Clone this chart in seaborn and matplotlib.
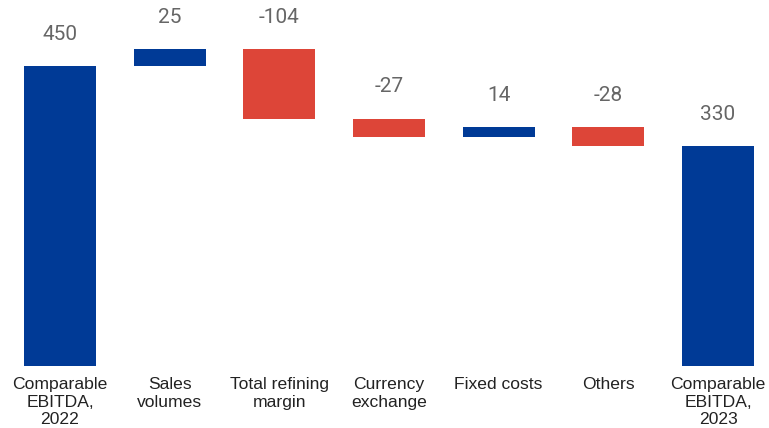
import matplotlib
matplotlib.use("Agg")
import matplotlib.pyplot as plt
import numpy as np
import pandas as pd
import seaborn as sns

categories = ["Comparable\nEBITDA,\n2022", "Sales\nvolumes", "Total refining\nmargin",
              "Currency\nexchange", "Fixed costs", "Others", "Comparable\nEBITDA,\n2023"]
values = [450, 25, -104, -27, 14, -28, 330]
is_total = [True, False, False, False, False, False, True]

BLUE = "#003A96"
RED = "#DD4538"

# waterfall geometry: each step starts where the previous running total ended
bottoms, heights, tops = [], [], []
running = 0
for v, tot in zip(values, is_total):
    if tot:
        bottoms.append(0)
        heights.append(v)
        running = v
    else:
        start = running
        running = running + v
        bottoms.append(min(start, running))
        heights.append(abs(v))
    tops.append(bottoms[-1] + heights[-1])

df = pd.DataFrame({
    "category": categories,
    "height": heights,
    "bottom": bottoms,
})
bar_colors = [BLUE if v >= 0 else RED for v in values]

sns.set_theme(style="white")
plt.rcParams["font.family"] = ["Liberation Sans", "DejaVu Sans"]

fig = plt.figure(figsize=(7.69, 4.28), dpi=100)
ax = fig.add_axes([0.0, 1 - 366 / 428, 1.0, 366 / 428])

sns.barplot(data=df, x="category", y="height", order=categories,
            bottom=df["bottom"].to_numpy(), color=BLUE, saturation=1,
            width=0.657, ax=ax)
for patch, c in zip(ax.patches, bar_colors):
    patch.set_facecolor(c)
    patch.set_edgecolor("none")

for i, (v, t) in enumerate(zip(values, tops)):
    ax.annotate(f"{v}", xy=(i, t), xytext=(0, 23), textcoords="offset points",
                ha="center", va="center", fontsize=15, color="#666666",
                family=["Roboto", "DejaVu Sans"])

ax.set_xlim(-60 / 109.67, (769 - 60) / 109.67)
ax.set_ylim(0, 549)
ax.set_xlabel("")
ax.set_ylabel("")
ax.set_yticks([])
ax.tick_params(axis="x", length=0, pad=8, labelsize=12.6, colors="#222222")
for lbl in ax.get_xticklabels():
    lbl.set_linespacing(1.2)
for s in ax.spines.values():
    s.set_visible(False)

fig.savefig("out.png", dpi=100)
